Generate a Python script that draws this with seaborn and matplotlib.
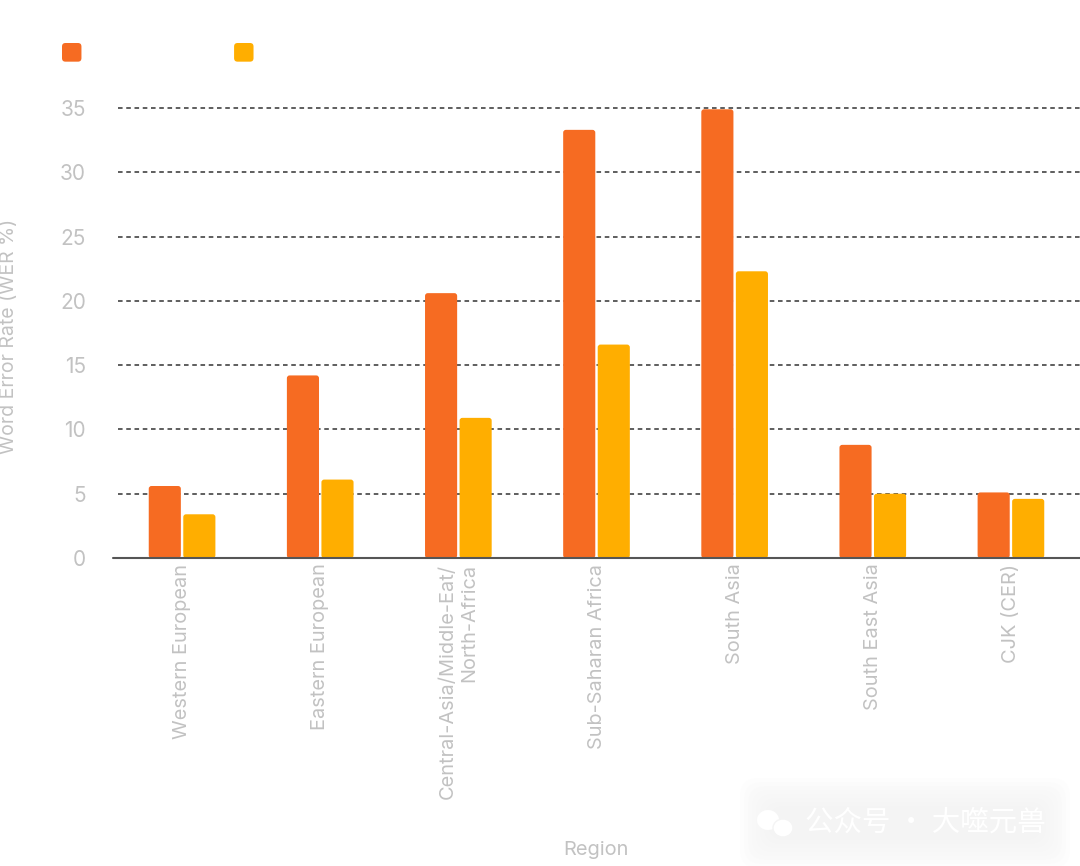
import matplotlib
matplotlib.use("Agg")
import matplotlib.pyplot as plt
import pandas as pd
import seaborn as sns
from matplotlib.legend_handler import HandlerPatch
from matplotlib.patches import Ellipse, FancyBboxPatch

regions = [
    "Western European",
    "Eastern European",
    "Central-Asia/Middle-Eat/\nNorth-Africa",
    "Sub-Saharan Africa",
    "South Asia",
    "South East Asia",
    "CJK (CER)",
]
# legend names are washed out in the source, so these two stay internal
series_names = ["first", "second"]
first_wer = [5.6, 14.2, 20.6, 33.3, 34.9, 8.8, 5.1]
second_wer = [3.4, 6.1, 10.9, 16.6, 22.3, 5.0, 4.6]
y_ticks = [0, 5, 10, 15, 20, 25, 30, 35]

ORANGE = "#f66b22"
YELLOW = "#ffae00"
GREY = "#c2c2c2"
W, H = 1080, 866


class RoundSquare(HandlerPatch):
    def create_artists(self, legend, orig, xd, yd, width, height, fontsize, trans):
        box = FancyBboxPatch(
            (-xd, -yd), width, height,
            boxstyle="round,pad=0,rounding_size=2.5",
            facecolor=orig.get_facecolor(), edgecolor="none", transform=trans,
        )
        return [box]


sns.set_theme(style="white")
plt.rcParams["font.family"] = ["Inter", "DejaVu Sans"]

df = pd.DataFrame(
    {
        "Region": regions * 2,
        "Series": [series_names[0]] * len(regions) + [series_names[1]] * len(regions),
        "WER": first_wer + second_wer,
    }
)

fig = plt.figure(figsize=(W / 100, H / 100), dpi=100, facecolor="white")
ax = fig.add_axes([113 / W, 1 - 558 / H, (W - 113) / W, 450 / H])

sns.barplot(
    data=df, x="Region", y="WER", hue="Series", hue_order=series_names,
    palette=[ORANGE, YELLOW], saturation=1, width=0.5, gap=0.07, legend=False,
    ax=ax, zorder=3,
)
ax.set_xlim(-0.5, 6.5)
ax.set_ylim(0, 35)

# swap the square bars for slightly rounded ones, same geometry
for bar in list(ax.patches):
    rounded = FancyBboxPatch(
        (bar.get_x(), bar.get_y()), bar.get_width(), bar.get_height(),
        boxstyle="round,pad=0,rounding_size=0.02", mutation_aspect=10.75,
        facecolor=bar.get_facecolor(), edgecolor="none", zorder=3,
    )
    bar.remove()
    ax.add_patch(rounded)

for tick in y_ticks:
    ax.axhline(
        tick, xmin=5 / (W - 113), color="#333333", linewidth=1.1,
        linestyle=(0, (3.0, 2.4)), zorder=1, clip_on=False,
    )
ax.axhline(0, color="#555555", linewidth=1.5, zorder=4, clip_on=False)

sns.despine(ax=ax, left=True, bottom=True)
ax.set_yticks(y_ticks)
ax.tick_params(axis="y", length=0, pad=19.5, labelsize=15, labelcolor=GREY)
ax.tick_params(axis="x", length=0, pad=4)
ax.set_xticks(range(len(regions)))
ax.set_xticklabels(
    regions, rotation=90, ha="center", va="top", multialignment="right",
    fontsize=14.4, color=GREY, linespacing=1.2,
)
ax.set_xlabel("")
ax.set_ylabel("")
fig.text(9 / W, 1 - 336 / H, "Word Error Rate (WER %)", rotation=90,
         ha="center", va="center", fontsize=14, color=GREY)
fig.text(596 / W, 1 - 850 / H, "Region", ha="center", va="center",
         fontsize=14.4, color=GREY)

handles = [plt.Rectangle((0, 0), 1, 1, facecolor=c) for c in (ORANGE, YELLOW)]
fig.legend(
    handles, ["", ""], ncol=2, loc="upper left",
    bbox_to_anchor=(62 / W, 1 - 43 / H), bbox_transform=fig.transFigure,
    frameon=False, fontsize=14, borderpad=0, borderaxespad=0,
    handlelength=1, handleheight=1.1, handletextpad=0, columnspacing=7.85,
    handler_map={plt.Rectangle: RoundSquare()},
)

# faint watermark at the bottom right
overlay = fig.add_axes([0, 0, 1, 1], facecolor="none", zorder=5)
overlay.set_xlim(0, W)
overlay.set_ylim(H, 0)
overlay.axis("off")
for grow in range(30, -2, -4):
    overlay.add_patch(
        FancyBboxPatch(
            (770 - grow, 808 - grow), 270 + 2 * grow, 30 + 2 * grow,
            boxstyle="round,pad=0,rounding_size=18",
            facecolor="#f0f0f0", edgecolor="none", alpha=0.1,
        )
    )
overlay.add_patch(Ellipse((768, 820), 22, 20, facecolor="white", edgecolor="none"))
overlay.add_patch(Ellipse((783, 828), 20, 18, facecolor="white", edgecolor="#f4f4f4", linewidth=1))
overlay.text(
    925, 823, "公众号 · 大噬元兽", ha="center", va="center", fontsize=20.5,
    color="white", family=["Noto Sans CJK SC", "DejaVu Sans"],
)

plt.savefig("out.png", dpi=100)
plt.close()
print("Saved: out.png")
